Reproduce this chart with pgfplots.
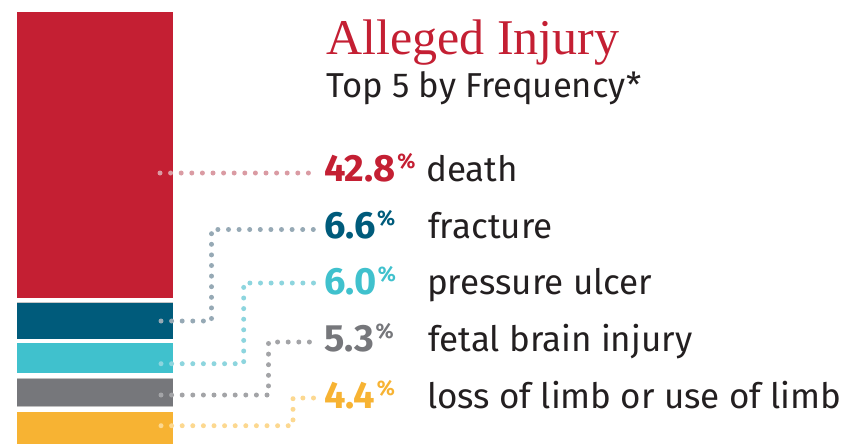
\documentclass[border=0pt]{standalone}
\usepackage{fontspec}
\setmainfont{Fira Sans}
\newfontfamily\titlefont{Liberation Serif}
\usepackage{pgfplots}
\pgfplotsset{compat=1.18}
\definecolor{cRed}{HTML}{C41F33}
\definecolor{cBlue}{HTML}{005B7B}
\definecolor{cCyan}{HTML}{40C1CD}
\definecolor{cGray}{HTML}{76777B}
\definecolor{cYellow}{HTML}{F7B333}
\definecolor{dRed}{HTML}{DA9BA3}
\definecolor{dBlue}{HTML}{96A9B5}
\definecolor{dCyan}{HTML}{8DD5DE}
\definecolor{dGray}{HTML}{A3A4A7}
\definecolor{dYellow}{HTML}{FCD890}
\definecolor{txt}{HTML}{231F20}
\tikzset{dots/.style={line width=5bp, line cap=round, dash pattern=on 0bp off 10.6bp}}
\newcommand{\lab}[1]{\fontsize{35bp}{40bp}\selectfont\color{txt}#1}
\newcommand{\num}[2]{\fontsize{38bp}{42bp}\selectfont\bfseries\color{#1}#2\kern1.5bp\raisebox{13bp}{\fontsize{21bp}{22bp}\selectfont\%}}
\begin{document}
\begin{tikzpicture}
\begin{axis}[
  width=860bp, height=444bp, scale only axis,
  xmin=0, xmax=860, ymin=0, ymax=444, y dir=reverse,
  hide axis, clip=false]
\path[use as bounding box] (axis cs:0,0) rectangle (axis cs:860,444);
% stacked bar segments (pixel extents)
\addplot[fill=cRed, draw=none] coordinates {(17,12) (173,12) (173,298) (17,298)} -- cycle;
\addplot[fill=cBlue, draw=none] coordinates {(17,302.7) (173,302.7) (173,338.7) (17,338.7)} -- cycle;
\addplot[fill=cCyan, draw=none] coordinates {(17,343.3) (173,343.3) (173,373.3) (17,373.3)} -- cycle;
\addplot[fill=cGray, draw=none] coordinates {(17,378.3) (173,378.3) (173,406.7) (17,406.7)} -- cycle;
\addplot[fill=cYellow, draw=none] coordinates {(17,411.7) (173,411.7) (173,444) (17,444)} -- cycle;
\addplot[draw=black!22, line width=1bp] coordinates {(17,302.9) (173,302.9)};
\addplot[draw=black!25, line width=1bp] coordinates {(17,378.5) (173,378.5)};
\addplot[draw=black!25, line width=1bp] coordinates {(17,406.5) (173,406.5)};
% dotted connectors
\addplot[dots, dRed] coordinates {(160,173) (312,173)};
\addplot[dots, dBlue] coordinates {(161,321) (211.5,321) (211.5,229.5) (314,229.5)};
\addplot[dots, dCyan] coordinates {(161,363.7) (243.7,363.7) (243.7,283) (314,283)};
\addplot[dots, dGray] coordinates {(161,395) (268.5,395) (268.5,342) (314,342)};
\addplot[dots, dYellow] coordinates {(161,425.7) (293,425.7) (293,398) (314,398)};
% titles
\node[anchor=base west, inner sep=0] at (axis cs:326,54.3) {\titlefont\fontsize{50bp}{55bp}\selectfont\color{cRed}Alleged Injury};
\node[anchor=base west, inner sep=0] at (axis cs:326,97) {\fontsize{34.6bp}{40bp}\selectfont\color{txt}Top 5 by Frequency*};
% values and labels
\node[anchor=base west, inner sep=0] at (axis cs:324,181.5) {\num{cRed}{42.8}};
\node[anchor=base west, inner sep=0] at (axis cs:324,238) {\num{cBlue}{6.6}};
\node[anchor=base west, inner sep=0] at (axis cs:324,294.5) {\num{cCyan}{6.0}};
\node[anchor=base west, inner sep=0] at (axis cs:324,351) {\num{cGray}{5.3}};
\node[anchor=base west, inner sep=0] at (axis cs:324,408) {\num{cYellow}{4.4}};
\node[anchor=base west, inner sep=0] at (axis cs:426,181.5) {\lab{death}};
\node[anchor=base west, inner sep=0] at (axis cs:428,238) {\lab{fracture}};
\node[anchor=base west, inner sep=0] at (axis cs:427,294.5) {\lab{pressure ulcer}};
\node[anchor=base west, inner sep=0] at (axis cs:428,351) {\lab{fetal brain injury}};
\node[anchor=base west, inner sep=0] at (axis cs:427,408) {\lab{loss of limb or use of limb}};
\end{axis}
\end{tikzpicture}
\end{document}
